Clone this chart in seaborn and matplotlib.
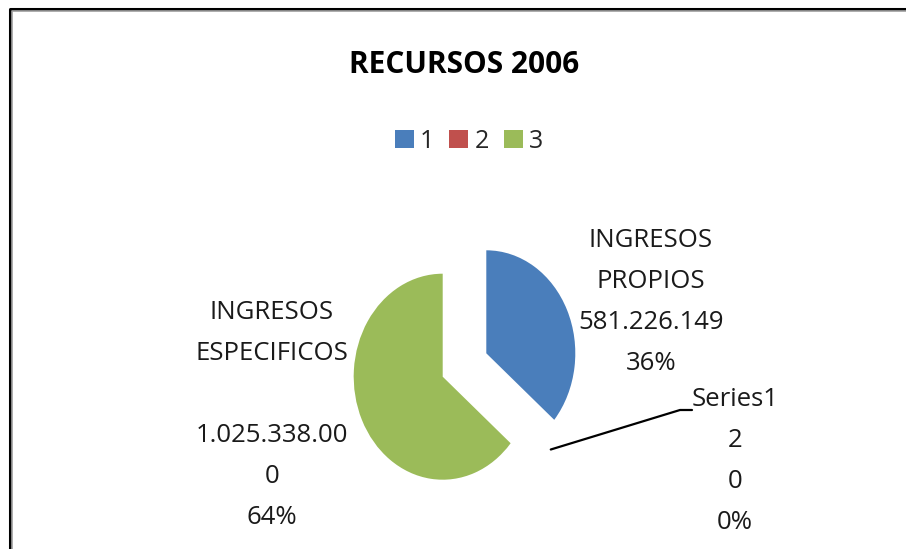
import numpy as np
import seaborn as sns
from matplotlib import pyplot as plt
from matplotlib.lines import Line2D

# data
categories = ['1', '2', '3']
values = [581226149, 0, 1025338000]
slice_names = ['INGRESOS\nPROPIOS', 'Series1\n2', 'INGRESOS\nESPECIFICOS\n']
colors = ['#4A7EBB', '#C0504D', '#9BBB59']
title = 'RECURSOS 2006'

sns.set_theme(style='white')
plt.rcParams['font.family'] = ['Open Sans', 'DejaVu Sans']

W, H = 906, 549
fig = plt.figure(figsize=(W / 100, H / 100), dpi=100)
fig.patch.set_facecolor('white')

def fx(px):
    return px / W

def fy(py):
    return 1 - py / H

# chart frame (cut off at right and bottom)
fig.add_artist(Line2D([fx(9.5), fx(9.5), fx(W + 5)], [fy(H + 5), fy(8.5), fy(8.5)],
                      transform=fig.transFigure, color='black', lw=2.2))
fig.add_artist(Line2D([fx(12), fx(12), fx(W + 5)], [fy(H + 5), fy(11), fy(11)],
                      transform=fig.transFigure, color='#a0a0a0', lw=1.2))

# pie axes: stretched a bit vertically like the original
ax = fig.add_axes([fx(331), fy(519.5), 267 / W, 309 / H])
explode = [0.27, 0.27, 0.27]
wedges, _ = ax.pie(values, colors=colors, startangle=90, counterclock=False,
                   explode=explode, wedgeprops=dict(linewidth=0))
ax.set_aspect('auto')
ax.set_xlim(-1.5, 1.5)
ax.set_ylim(-1.5, 1.5)
ax.axis('off')

fig.text(fx(464), fy(65), title, ha='center', va='center', fontsize=21.5,
         fontweight='bold', color='black')

fig.legend(wedges, categories, loc='center', bbox_to_anchor=(fx(469), fy(141)),
           ncol=3, frameon=False, fontsize=18, handlelength=0.75, handleheight=0.75,
           handletextpad=0.25, columnspacing=0.6)

total = sum(values)

def fmt(v):
    s = f'{v:,}'.replace(',', '.')
    if len(s) > 12:
        s = s[:12] + '\n' + s[12:]
    return s

labels = [f'{n}\n{fmt(v)}\n{round(v / total * 100)}%' for n, v in zip(slice_names, values)]
label_pos = [(651, 302), (735, 461), (272, 415)]
for lab, (px, py) in zip(labels, label_pos):
    fig.text(fx(px), fy(py), lab, ha='center', va='center', ma='center',
             fontsize=18.5, linespacing=1.85, color='#1a1a1a')

# leader line for the empty slice
w = wedges[1]
ang = np.deg2rad((w.theta1 + w.theta2) / 2)
r = 1 + explode[1]
x0, y0 = ax.transData.transform((r * np.cos(ang), r * np.sin(ang)))
x0, y0 = fig.transFigure.inverted().transform((x0, y0))
fig.add_artist(Line2D([x0, fx(680), fx(692)], [y0, fy(410), fy(410)],
                      transform=fig.transFigure, color='black', lw=1.6))

fig.savefig('out.png', dpi=100)
